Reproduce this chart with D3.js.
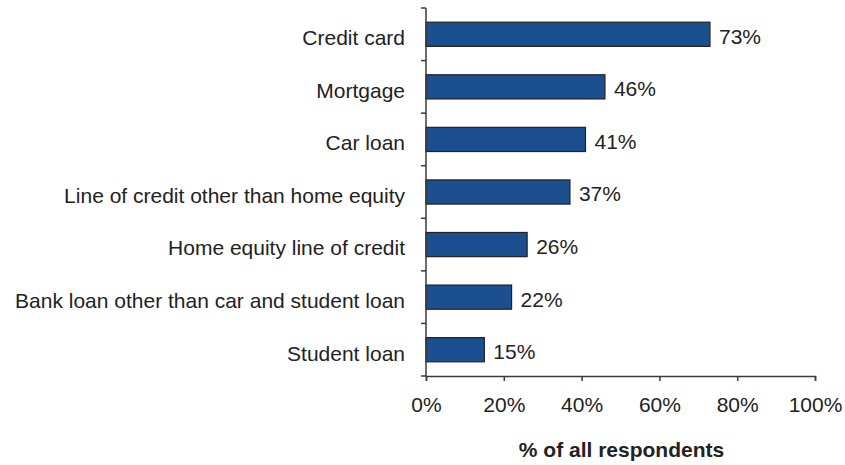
<!DOCTYPE html>
<html>
<head>
<meta charset="utf-8">
<script src="https://cdn.jsdelivr.net/npm/d3@7"></script>
<style>
  html, body { margin: 0; padding: 0; background: #fff; }
  svg { display: block; font-family: "Liberation Sans", Arial, sans-serif; }
</style>
</head>
<body>
<svg id="chart" width="845" height="465"></svg>
<script>
// Types of debt held, share of all respondents
const categories = [
  "Credit card",
  "Mortgage",
  "Car loan",
  "Line of credit other than home equity",
  "Home equity line of credit",
  "Bank loan other than car and student loan",
  "Student loan"
];
const values = [73, 46, 41, 37, 26, 22, 15];
const xTicks = [0, 20, 40, 60, 80, 100];
const xTitle = "% of all respondents";

const svg = d3.select("#chart");
const plotLeft = 426, plotRight = 815, plotTop = 8, plotBottom = 376;
const fontSize = 21;
const textColor = "#222";

const x = d3.scaleLinear().domain([0, 100]).range([plotLeft, plotRight]);
const y = d3.scaleBand().domain(categories).range([plotTop, plotBottom]).paddingInner(0.54).paddingOuter(0.27);

const axisColor = "#3a3a3a";

// bars
svg.append("g").selectAll("rect")
  .data(categories)
  .join("rect")
  .attr("x", x(0))
  .attr("y", d => y(d))
  .attr("width", (d, i) => x(values[i]) - x(0))
  .attr("height", y.bandwidth())
  .attr("fill", "#1b4f8f")
  .attr("stroke", "#222")
  .attr("stroke-width", 1.2);

// value labels
svg.append("g").selectAll("text")
  .data(categories)
  .join("text")
  .attr("x", (d, i) => x(values[i]) + 9)
  .attr("y", d => y(d) + y.bandwidth() / 2)
  .attr("dy", "0.45em")
  .attr("font-size", fontSize)
  .attr("fill", textColor)
  .text((d, i) => values[i] + "%");

// category axis with ticks at band boundaries
const yAxis = svg.append("g");
yAxis.append("line")
  .attr("x1", plotLeft).attr("x2", plotLeft)
  .attr("y1", plotTop).attr("y2", plotBottom)
  .attr("stroke", axisColor).attr("stroke-width", 1.5);
const boundaries = d3.range(categories.length + 1)
  .map(i => plotTop + i * (plotBottom - plotTop) / categories.length);
yAxis.selectAll("line.tick")
  .data(boundaries)
  .join("line")
  .attr("class", "tick")
  .attr("x1", plotLeft - 5).attr("x2", plotLeft)
  .attr("y1", d => d).attr("y2", d => d)
  .attr("stroke", axisColor).attr("stroke-width", 1.5);
yAxis.selectAll("text")
  .data(categories)
  .join("text")
  .attr("x", 405)
  .attr("y", d => y(d) + y.bandwidth() / 2)
  .attr("dy", "0.52em")
  .attr("text-anchor", "end")
  .attr("font-size", fontSize)
  .attr("fill", textColor)
  .text(d => d);

// value axis
const xAxis = svg.append("g")
  .attr("transform", `translate(0,${plotBottom})`)
  .call(d3.axisBottom(x).tickValues(xTicks).tickFormat(d => d + "%").tickSize(5).tickPadding(16));
xAxis.select(".domain").attr("stroke", axisColor).attr("stroke-width", 1.5);
xAxis.selectAll(".tick line").attr("stroke", axisColor).attr("stroke-width", 1.5);
xAxis.selectAll(".tick text")
  .attr("font-size", fontSize)
  .attr("font-family", "Liberation Sans, Arial, sans-serif")
  .attr("fill", textColor);

svg.append("text")
  .attr("x", (plotLeft + plotRight) / 2 + 1)
  .attr("y", 457)
  .attr("text-anchor", "middle")
  .attr("font-size", fontSize)
  .attr("font-weight", "bold")
  .attr("fill", textColor)
  .text(xTitle);
</script>
</body>
</html>
